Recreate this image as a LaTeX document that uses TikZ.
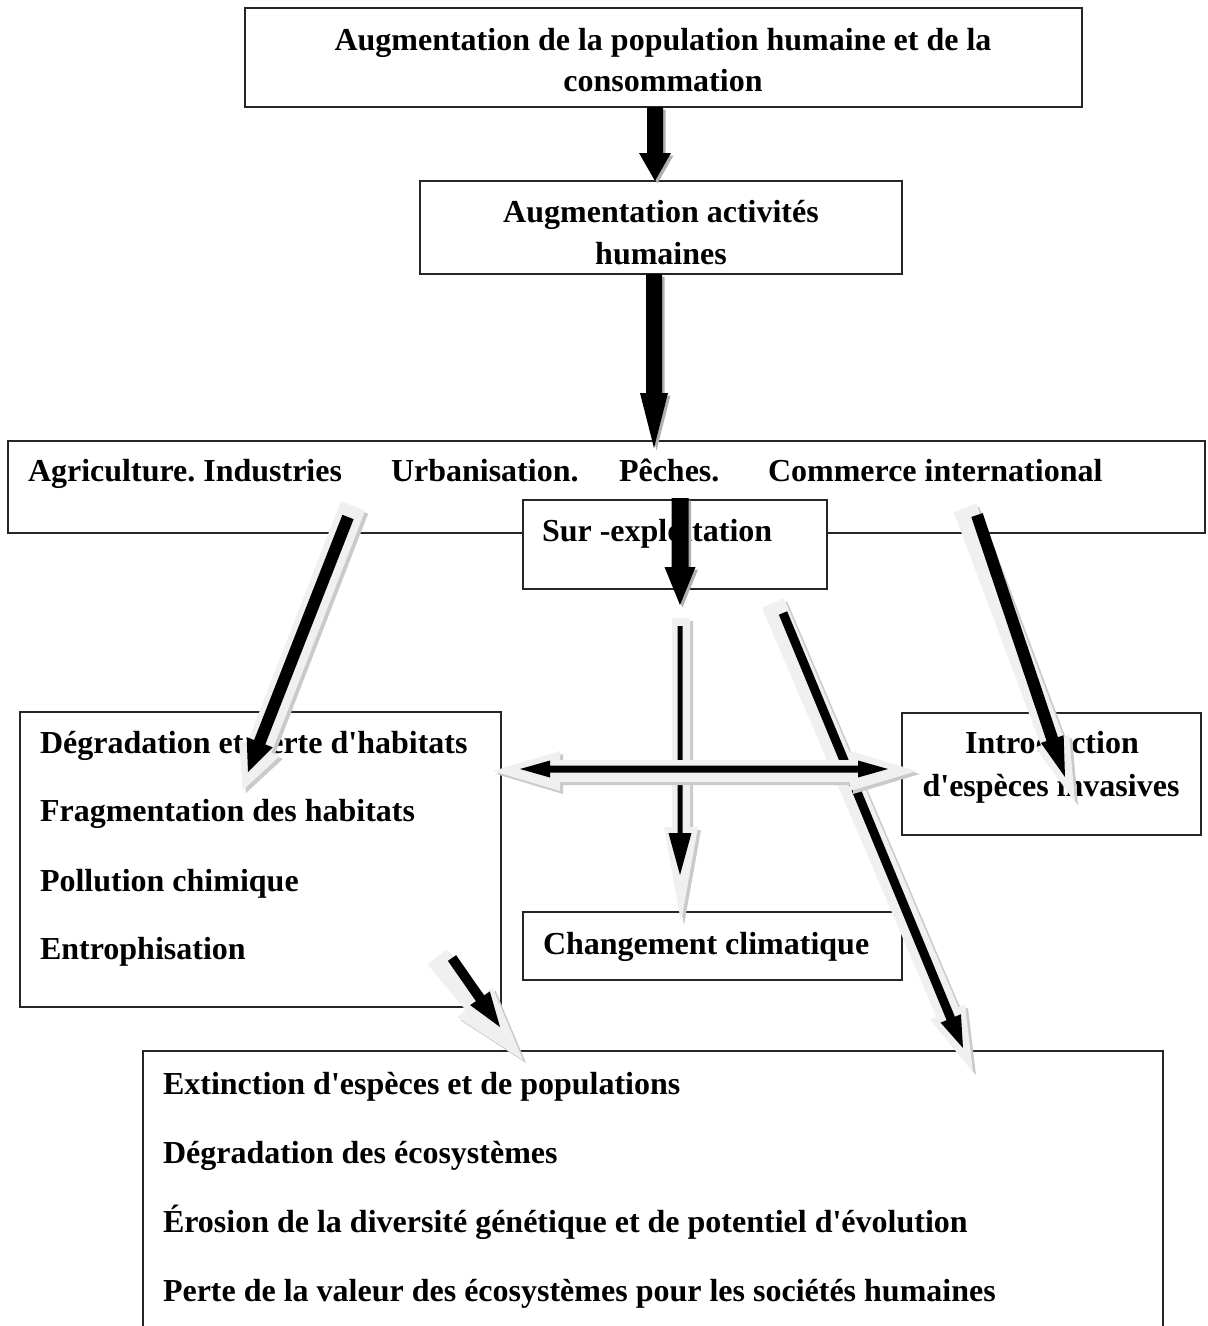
\documentclass[tikz,border=0pt]{standalone}
\usepackage{fontspec}
\setmainfont{Liberation Serif}[Ligatures=TeXOff]
\usetikzlibrary{calc}
\definecolor{glowcol}{HTML}{F0F0F0}
\definecolor{shcol}{HTML}{CACACA}
\definecolor{bshcol}{HTML}{B0B0B0}
\frenchspacing
% single-headed fat arrow: #1 start, #2 tip, #3 shaft half width, #4 head half width, #5 head length, #6 style
\newcommand\fatarrow[6]{%
  \coordinate (fahd) at ($(#2)!#5!(#1)$);
  \fill[#6] ($(#1)!#3!90:(#2)$) -- ($(fahd)!#3!-90:(#1)$) -- ($(fahd)!#4!-90:(#1)$) -- (#2)
    -- ($(fahd)!#4!90:(#1)$) -- ($(fahd)!#3!90:(#1)$) -- ($(#1)!#3!-90:(#2)$) -- cycle;
}
% double-headed fat arrow
\newcommand\dblfatarrow[6]{%
  \coordinate (fahA) at ($(#2)!#5!(#1)$);
  \coordinate (fahB) at ($(#1)!#5!(#2)$);
  \fill[#6] (#1) -- ($(fahB)!#4!90:(#2)$) -- ($(fahB)!#3!90:(#2)$) -- ($(fahA)!#3!-90:(#1)$)
    -- ($(fahA)!#4!-90:(#1)$) -- (#2) -- ($(fahA)!#4!90:(#1)$) -- ($(fahA)!#3!90:(#1)$)
    -- ($(fahB)!#3!-90:(#2)$) -- ($(fahB)!#4!-90:(#2)$) -- cycle;
}
\begin{document}
\begin{tikzpicture}[x=1pt,y=-1pt,
  box/.style={draw=black!85, line width=1.3pt, fill=white, inner sep=0pt, outer sep=0pt, anchor=north west},
  txt/.style={font=\fontsize{32}{41}\selectfont\bfseries\frenchspacing, inner sep=0pt, outer sep=0pt},
  dropsh/.style={bshcol, transform canvas={shift={(2.5,2.5)}}},
  glowsh/.style={shcol, transform canvas={shift={(3,3)}}}]
\useasboundingbox[fill=white] (0,0) rectangle (1208,1326);
\clip (0,0) rectangle (1208,1326);

% boxes
\node[box, minimum width=837pt, minimum height=99pt] (top) at (245,8) {};
\node[box, minimum width=482pt, minimum height=93pt] (act) at (420,181) {};
\node[box, minimum width=1197pt, minimum height=92pt] (wide) at (8,441) {};
\node[box, minimum width=304pt, minimum height=89pt] (sur) at (523,500) {};
\node[box, minimum width=481pt, minimum height=295pt] (left) at (20,712) {};
\node[box, minimum width=299pt, minimum height=122pt] (intro) at (902,713) {};
\node[box, minimum width=379pt, minimum height=68pt] (clim) at (523,912) {};
\node[box, minimum width=1020pt, minimum height=320pt] (bottom) at (143,1051) {};

% texts
\node[txt, anchor=base] (t1a) at (663,50) {Augmentation de la population humaine et de la};
\node[txt, anchor=base] (t1b) at (663,91) {consommation};
\node[txt, anchor=base] (t2a) at (661,222) {Augmentation activités};
\node[txt, anchor=base] (t2b) at (661,264) {humaines};
\node[txt, anchor=base west] (w1) at (28,481) {Agriculture. Industries};
\node[txt, anchor=base west] (w2) at (391,481) {Urbanisation.};
\node[txt, anchor=base west] (w3) at (619,481) {Pêches.};
\node[txt, anchor=base west] (w4) at (768,481) {Commerce international};
\node[txt, anchor=base west] (t4) at (542,541) {Sur -exploitation};
\node[txt, anchor=base west] (l1) at (40,753) {Dégradation et perte d'habitats};
\node[txt, anchor=base west] (l2) at (40,821) {Fragmentation des habitats};
\node[txt, anchor=base west] (l3) at (40,891) {Pollution chimique};
\node[txt, anchor=base west] (l4) at (40,959) {Entrophisation};
\node[txt, anchor=base] (i1) at (1052,753) {Introduction};
\node[txt, anchor=base] (i2) at (1051,796) {d'espèces invasives};
\node[txt, anchor=base west] (c1) at (543,954) {Changement climatique};
\node[txt, anchor=base west] (b1) at (163,1094) {Extinction d'espèces et de populations};
\node[txt, anchor=base west] (b2) at (163,1163) {Dégradation des écosystèmes};
\node[txt, anchor=base west] (b3) at (163,1232) {Érosion de la diversité génétique et de potentiel d'évolution};
\node[txt, anchor=base west] (b4) at (163,1301) {Perte de la valeur des écosystèmes pour les sociétés humaines};

% arrow end points
\coordinate (a1s) at (655,107);  \coordinate (a1e) at (655,181);
\coordinate (a2s) at (654,274);  \coordinate (a2e) at (654,448);
\coordinate (a4s) at (680,498);  \coordinate (a4e) at (680,605);
\coordinate (a3s) at (348,517);  \coordinate (a3e) at (248,772);
\coordinate (g3s) at (353,506);  \coordinate (g3e) at (243,790);
\coordinate (a5s) at (680,626);  \coordinate (a5e) at (680,875);
\coordinate (g5s) at (681,618);  \coordinate (g5e) at (681,922);
\coordinate (a6s) at (520,769);  \coordinate (a6e) at (888,769);
\coordinate (g6s) at (493,771);  \coordinate (g6e) at (917,771);
\coordinate (a7s) at (783,613);  \coordinate (a7e) at (963,1048);
\coordinate (g7s) at (773,603);  \coordinate (g7e) at (973,1072);
\coordinate (a8s) at (977,515);  \coordinate (a8e) at (1065,777);
\coordinate (g8s) at (965,508);  \coordinate (g8e) at (1075,802);
\coordinate (a9s) at (452,958);  \coordinate (a9e) at (500,1027);
\coordinate (g9s) at (437,957);  \coordinate (g9e) at (523,1060);

% plain black arrows
\fatarrow{a1s}{a1e}{8pt}{16pt}{28pt}{dropsh}
\fatarrow{a1s}{a1e}{8pt}{16pt}{28pt}{black}
\fatarrow{a2s}{a2e}{8pt}{14pt}{55pt}{dropsh}
\fatarrow{a2s}{a2e}{8pt}{14pt}{55pt}{black}
\fatarrow{a4s}{a4e}{8.5pt}{15.5pt}{38pt}{dropsh}
\fatarrow{a4s}{a4e}{8.5pt}{15.5pt}{38pt}{black}

% glowing arrows
\fatarrow{g3s}{g3e}{13pt}{22pt}{45pt}{glowsh}
\fatarrow{g3s}{g3e}{13pt}{22pt}{45pt}{glowcol}
\fatarrow{a3s}{a3e}{6pt}{14pt}{32pt}{black}

\fatarrow{g8s}{g8e}{12pt}{18pt}{65pt}{glowsh}
\fatarrow{g8s}{g8e}{12pt}{18pt}{65pt}{glowcol}
\fatarrow{a8s}{a8e}{6pt}{12pt}{40pt}{black}

\fatarrow{g9s}{g9e}{12pt}{23pt}{75pt}{glowsh}
\fatarrow{g9s}{g9e}{12pt}{23pt}{75pt}{glowcol}
\fatarrow{a9s}{a9e}{5pt}{12pt}{35pt}{black}

\fatarrow{g5s}{g5e}{9pt}{17pt}{95pt}{glowsh}
\fatarrow{g5s}{g5e}{9pt}{17pt}{95pt}{glowcol}
\fatarrow{a5s}{a5e}{2.5pt}{11.5pt}{42pt}{black}

\fatarrow{g7s}{g7e}{12pt}{19pt}{65pt}{glowsh}
\fatarrow{g7s}{g7e}{12pt}{19pt}{65pt}{glowcol}
\fatarrow{a7s}{a7e}{4.5pt}{11pt}{32pt}{black}

\dblfatarrow{g6s}{g6e}{11pt}{20pt}{67pt}{glowsh}
\dblfatarrow{g6s}{g6e}{11pt}{20pt}{67pt}{glowcol}
\dblfatarrow{a6s}{a6e}{3.5pt}{8.5pt}{30pt}{black}
\end{tikzpicture}
\end{document}
